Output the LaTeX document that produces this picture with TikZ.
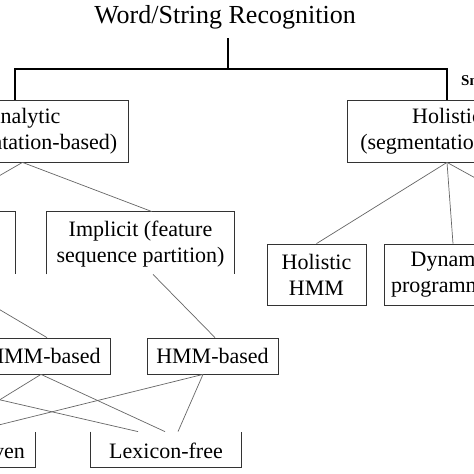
\documentclass[tikz,border=0pt]{standalone}
\usepackage{fontspec}
\setmainfont{Liberation Serif}
\begin{document}
\begin{tikzpicture}[x=1pt,y=-1pt,
  box/.style={draw=black!80, line width=0.8pt, inner sep=0pt, align=center,
    font=\fontsize{22}{26}\selectfont},
  openbox/.style={box, draw=none},
  conn/.style={draw=black!60, line width=0.7pt},
  tree/.style={draw=black, line width=1.6pt}]
\useasboundingbox (0,0) rectangle (474,474);
\clip (0,0) rectangle (474,474);
\fill[white] (0,0) rectangle (474,474);

% title
\node[inner sep=0pt, font=\fontsize{26}{30}\selectfont] (title) at (225,17) {Word/String Recognition};
\node[inner sep=0pt, anchor=west, font=\fontsize{15}{17}\selectfont\bfseries] (sn) at (461,81) {Sn};

% level 1
\node[box, minimum width=211, minimum height=62] (ana) at (22.5,131) {Analytic\\(segmentation-based)};
\node[box, minimum width=200, minimum height=62] (hol) at (447,131) {Holistic\\(segmentation-free)};

% level 2
\node[openbox, minimum width=150, minimum height=62] (expl) at (-60,243) {};
\draw[box] (expl.north west) -- (expl.north east) -- (expl.south east);
\node[openbox, minimum width=187, minimum height=62] (impl) at (140.5,244) {Implicit (feature\\sequence partition)};
\draw[box] ([yshift=1pt]impl.south west) -- ([yshift=1pt]impl.north west) -- ([yshift=1pt]impl.north east) -- ([yshift=1pt]impl.south east);
\node[box, minimum width=99, minimum height=61] (hh) at (316.5,274.5) {Holistic\\HMM};
\node[box, minimum width=134, minimum height=61] (dp) at (451,274.5) {Dynamic\\programming};
\coordinate (offR) at (595,244);

% level 3
\node[box, minimum width=131, minimum height=36] (hmmL) at (44.5,356) {HMM-based};
\node[box, minimum width=131, minimum height=36] (hmmR) at (212.5,356) {HMM-based};
\coordinate (offL) at (-108,375);

% level 4
\node[openbox, minimum width=156, minimum height=35] (ldr) at (-43,450.5) {Lexicon-driven};
\draw[box] ([yshift=1pt]ldr.north west) -- ([yshift=1pt]ldr.south west) -- ([yshift=1pt]ldr.south east) -- ([yshift=1pt]ldr.north east);
\node[openbox, minimum width=150, minimum height=35] (lfr) at (166,450.5) {Lexicon-free};
\draw[box] ([yshift=1pt]lfr.north west) -- ([yshift=1pt]lfr.south west) -- ([yshift=1pt]lfr.south east) -- ([yshift=1pt]lfr.north east);

% tree from title
\coordinate (tt) at (228,38);
\coordinate (tj) at (228,69);
\draw[tree] (tt) -- (tj);
\draw[tree] ([xshift=-7.5pt]ana.north) |- (tj) -| (hol.north);

% connectors
\draw[conn] (ana.south) -- ([xshift=11.5pt,yshift=1pt]impl.north);
\draw[conn] (ana.south) -- ([xshift=-3pt]expl.north);
\draw[conn] (expl.south) -- ([xshift=2.5pt]hmmL.north);
\draw[conn] ([xshift=12.5pt,yshift=1pt]impl.south) -- ([xshift=2.5pt]hmmR.north);
\draw[conn] (hol.south) -- (hh.north);
\draw[conn] (hol.south) -- ([xshift=2pt]dp.north);
\draw[conn] (hol.south) -- (offR);
\draw[conn] ([xshift=-3.5pt]hmmL.south) -- ([xshift=-9pt,yshift=1pt]ldr.north);
\draw[conn] ([xshift=-3.5pt]hmmL.south) -- ([xshift=-1pt,yshift=1pt]lfr.north);
\draw[conn] (offL) -- ([xshift=-28pt,yshift=1pt]lfr.north);
\draw[conn] ([xshift=-9.5pt]hmmR.south) -- ([xshift=15pt,yshift=1pt]ldr.north);
\draw[conn] ([xshift=-9.5pt]hmmR.south) -- ([xshift=12pt,yshift=1pt]lfr.north);
\end{tikzpicture}
\end{document}
